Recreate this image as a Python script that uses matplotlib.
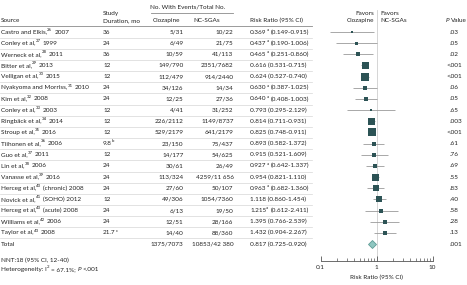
import re
import numpy as np
import matplotlib
matplotlib.use("Agg")
import matplotlib.pyplot as plt
from matplotlib.transforms import blended_transform_factory, offset_copy

# ---- data ----
sources = ["Castro and Elkis,^{26} 2007", "Conley et al,^{27} 1999",
           "Werneck et al,^{28} 2011", "Bitter et al,^{29} 2013",
           "Velligan et al,^{30} 2015", "Nyakyoma and Morriss,^{31} 2010",
           "Kim et al,^{32} 2008", "Conley et al,^{33} 2003",
           "Ringbäck et al,^{34} 2014", "Stroup et al,^{35} 2016",
           "Tiihonen et al,^{36} 2006", "Guo et al,^{37} 2011",
           "Lin et al,^{38} 2006", "Vanasse et al,^{39} 2016",
           "Herceg et al,^{40} (chronic) 2008", "Novick et al,^{41} (SOHO) 2012",
           "Herceg et al,^{40} (acute) 2008", "Williams et al,^{42} 2006",
           "Taylor et al,^{43} 2008"]
duration = ["36", "24", "36", "12", "12", "24", "24", "12", "12", "12",
            "9.8^{b}", "12", "24", "24", "24", "12", "24", "24", "21.7^{c}"]
clozapine = ["5/31", "6/49", "10/59", "149/790", "112/479", "34/126", "12/25",
             "4/41", "226/2112", "529/2179", "23/150", "14/177", "30/61",
             "113/324", "27/60", "49/306", "6/13", "12/51", "14/40"]
ncsga = ["10/22", "21/75", "41/113", "2351/7682", "914/2440", "14/34", "27/36",
         "31/252", "1149/8737", "641/2179", "75/437", "54/625", "26/49",
         "4259/11 656", "50/107", "1054/7360", "19/50", "28/166", "88/360"]
rr = [0.369, 0.437, 0.465, 0.616, 0.624, 0.630, 0.640, 0.793, 0.814, 0.825,
      0.893, 0.915, 0.927, 0.954, 0.963, 1.118, 1.215, 1.395, 1.432]
lo = [0.149, 0.190, 0.251, 0.531, 0.527, 0.387, 0.408, 0.295, 0.711, 0.748,
      0.582, 0.521, 0.642, 0.821, 0.682, 0.860, 0.612, 0.766, 0.904]
hi = [0.915, 1.006, 0.860, 0.715, 0.740, 1.025, 1.003, 2.129, 0.931, 0.911,
      1.372, 1.609, 1.337, 1.110, 1.360, 1.454, 2.411, 2.539, 2.267]
rr_note = ["a", "a", "a", "", "", "a", "a", "", "", "", "", "", "a", "", "a",
           "", "a", "", ""]
pvals = [".03", ".05", ".02", "<.001", "<.001", ".06", ".05", ".65", ".003",
         "<.001", ".61", ".76", ".69", ".55", ".83", ".40", ".58", ".28", ".13"]
# box side (px), proportional to study weight
weights = [2.5, 3, 3.5, 7, 7.5, 4, 4.5, 2, 7, 7.5, 4.7, 4, 5, 7, 5.5, 6.5,
           3.3, 4, 4.7]
total_cloz, total_ncsga = "1375/7073", "10853/42 380"
total_rr, total_lo, total_hi, total_p = 0.817, 0.725, 0.920, ".001"

# ---- style ----
plt.rcParams["font.family"] = ["Lato", "DejaVu Sans"]
FS = 4.6
SUP = 0.68
SPACE = FS * 100 / 72 * 0.26   # px width of a space
W, H = 467, 285
TXT = "#222222"
BOX = "#2c5355"
fig = plt.figure(figsize=(W / 100, H / 100), dpi=100)
renderer = fig.canvas.get_renderer()

row0, pitch, axis_px = 32.0, 11.16, 261.0
ax = fig.add_axes([320.5 / W, 1 - axis_px / H, 112 / W, axis_px / H])
ax.set_xscale("log")
ax.set_xlim(0.1, 10)
ax.set_ylim((axis_px - row0) / pitch, -row0 / pitch)
for s in ("left", "right", "top"):
    ax.spines[s].set_visible(False)
ax.spines["bottom"].set_linewidth(0.6)
ax.spines["bottom"].set_color("#555555")
ax.set_yticks([])
ax.set_xticks([0.1, 1, 10])
ax.set_xticklabels(["0.1", "1", "10"])
ax.tick_params(axis="x", which="major", direction="in", length=3.5, width=0.6,
               labelsize=FS, pad=3, colors="#555555", labelcolor=TXT)
ax.tick_params(axis="x", which="minor", direction="in", length=2, width=0.5,
               colors="#555555")
ax.set_xlabel("Risk Ratio (95% CI)", fontsize=FS, color=TXT, labelpad=3)

tr = blended_transform_factory(fig.transFigure, ax.transData)
tr_sup = offset_copy(tr, fig=fig, y=2.2, units="dots")


def put(px, row, s, **kw):
    kw.setdefault("fontsize", FS)
    kw.setdefault("color", TXT)
    kw.setdefault("va", "center")
    return fig.text(px / W, row, s, transform=tr, **kw)


def measure(s, **kw):
    t = put(0, -10, s, **kw)
    w = t.get_window_extent(renderer).width
    t.remove()
    return w


def put_rich(px, row, s):
    # ^{..} = superscript, ~{..} = italic
    x = px
    for tok in re.split(r"(\^\{[^}]*\}|~\{[^}]*\})", s):
        if not tok:
            continue
        if tok.startswith("^{"):
            body = tok[2:-1]
            fig.text(x / W, row, body, transform=tr_sup, fontsize=FS * SUP,
                     color=TXT, va="center")
            x += measure(body) * SUP + 0.3
            continue
        kw = {"style": "italic"} if tok.startswith("~{") else {}
        if kw:
            tok = tok[2:-1]
        lead = len(tok) - len(tok.lstrip(" "))
        trail = len(tok) - len(tok.rstrip(" "))
        body = tok.strip(" ")
        x += lead * SPACE
        put(x, row, body, **kw)
        x += measure(body, **kw) + trail * SPACE


n = len(sources)
rows = np.arange(n)

# separators
for r in list(np.arange(n) + 0.5):
    ax.plot([0, 312 / W], [r, r], transform=tr, color="#d6d6d6", lw=0.5,
            clip_on=False)
ax.plot([0, 312 / W], [-0.5, -0.5], transform=tr, color="#8a8a8a", lw=0.6,
        clip_on=False)
ax.plot([150.5 / W, 233 / W], [-1.72, -1.72], transform=tr, color="#8a8a8a",
        lw=0.6, clip_on=False)
ax.plot([1, 1], [-1.98, (axis_px - row0) / pitch], color="#cfcfcf", lw=0.6,
        clip_on=False, zorder=1)

# headers
put(1, -1, "Source")
put(103, -1.7, "Study")
put(103, -1, "Duration, mo")
put(150.5, -2.24, "No. With Events/Total No.")
put(153, -1, "Clozapine")
put(193, -1, "NC-SGAs")
put(250, -1, "Risk Ratio (95% CI)")
put(374.5, -1.7, "Favors", ha="right")
put(374.5, -1, "Clozapine", ha="right")
put(380.5, -1.7, "Favors")
put(380.5, -1, "NC-SGAs")
put_rich(445.5, -1, "~{P} Value")

# rows
for i in range(n):
    put_rich(1, i, sources[i])
    put_rich(103, i, duration[i])
    put(183.5, i, clozapine[i], ha="right")
    put(233.5, i, ncsga[i], ha="right")
    note = "^{%s}" % rr_note[i] if rr_note[i] else ""
    put_rich(250, i, "%.3f%s (%.3f-%.3f)" % (rr[i], note, lo[i], hi[i]))
    p = pvals[i]
    if p.startswith("<"):
        put(450, i, "<", ha="right")
        p = p[1:]
    put(450, i, p)

ax.hlines(rows, lo, hi, color="#9a9a9a", lw=0.6, zorder=2)
for i in range(n):
    ax.plot(rr[i], i, marker="s", ms=weights[i] * 0.72, color=BOX, mew=0,
            zorder=3)

# total
t = n
put(1, t, "Total")
put(183.5, t, total_cloz, ha="right")
put(233.5, t, total_ncsga, ha="right")
put(250, t, "%.3f (%.3f-%.3f)" % (total_rr, total_lo, total_hi))
put(450, t, total_p)
ax.plot(total_rr, t, marker="D", ms=4.0, mfc="#8fc6c0", mec="#5f9c96",
        mew=0.6, zorder=3)

# footnotes
put(1, 20.47, "NNT:18 (95% CI, 12-40)")
put_rich(1, 21.28, "Heterogeneity: I^{2} = 67.1%; ~{P} <.001")

fig.savefig("out.png", dpi=100)
